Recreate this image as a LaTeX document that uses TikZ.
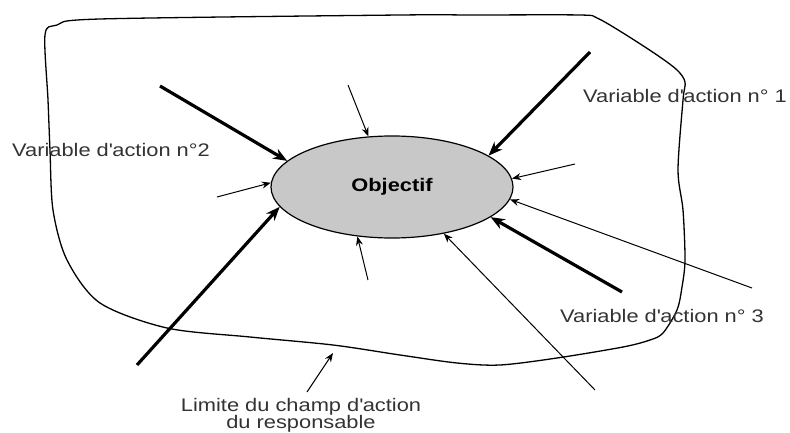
\documentclass[tikz,border=0pt]{standalone}
\usepackage{fontspec}
\setmainfont{Liberation Sans}[FakeStretch=1.2]
\usetikzlibrary{arrows.meta,shapes.geometric}
\definecolor{ink}{HTML}{333333}
\definecolor{objFill}{HTML}{C8C8C8}
\newcommand{\lblObj}{Objectif}
\newcommand{\lblVarA}{Variable d\textquotesingle action n° 1}
\newcommand{\lblVarB}{Variable d\textquotesingle action n°2}
\newcommand{\lblVarC}{Variable d\textquotesingle action n° 3}
\newcommand{\lblLimit}{Limite du champ d\textquotesingle action\\du responsable}

\begin{document}
\begin{tikzpicture}[
  x=1pt, y=-1pt,
  font=\fontsize{18.2}{17}\selectfont,
  obj/.style     ={ellipse, draw=black, line width=1.2pt, fill=objFill,
                   minimum width=242pt, minimum height=102pt, inner sep=0pt,
                   font=\fontsize{18.2}{18}\selectfont\bfseries},
  lbl/.style     ={text=ink, inner sep=0pt},
  major/.style   ={-{Stealth[length=14pt, width=11pt]}, line width=3.2pt},
  minor/.style   ={-{Stealth[length=9pt, width=7pt]}, line width=1pt},
  boundary/.style={draw=black, line width=1.3pt},
]
\useasboundingbox (0,0) rectangle (790,433);

% ---- the objective ---------------------------------------------------------
\node[obj] (obj) at (392,187) {\lblObj};

% ---- limit of the field of action ------------------------------------------
\draw[boundary] plot[smooth cycle, tension=0.5] coordinates {
  (45,35) (57,25) (100,19) (400,15) (473,15) (580,15) (597,18) (623,33)
  (657,55) (677,70) (685,82) (683,100) (678,170) (683,210) (685,260)
  (682,287) (677,310) (663,333) (650,340) (623,347) (557,358) (500,365)
  (457,363) (400,355) (333,345) (250,337) (167,328) (100,303) (67,260)
  (53,210) (50,150) (48,100)};

% ---- labels ----------------------------------------------------------------
\node[lbl, anchor=base west] (varA) at (583,103) {\lblVarA};
\node[lbl, anchor=base west] (varB) at (12,157)  {\lblVarB};
\node[lbl, anchor=base west] (varC) at (560,322) {\lblVarC};
\node[lbl, anchor=north, align=center] (limit) at (301,398) {\lblLimit};

% ---- free ends of the arrows -----------------------------------------------
\coordinate (sA)  at (590,52);
\coordinate (sB)  at (160,86);
\coordinate (sC)  at (622,292);
\coordinate (sD)  at (137,365);
\coordinate (tA)  at (348,85);
\coordinate (tB)  at (217,197);
\coordinate (tC)  at (368,280);
\coordinate (tD)  at (575,164);
\coordinate (tE)  at (752,288);
\coordinate (tF)  at (595,390);
\coordinate (limFoot) at (307,392);
\coordinate (limEdge) at (333,353);

% ---- action variables (thick) ----------------------------------------------
\draw[major] (sA) -- (obj.18);
\draw[major] (sB) -- (obj.166);
\draw[major] (sC) -- (obj.343);
\draw[major] (sD) -- (obj.190);

% ---- other influences (thin) -----------------------------------------------
\draw[minor] (tA) -- (obj.115);
\draw[minor] (tB) -- (obj.178);
\draw[minor] (tC) -- (obj.235);
\draw[minor] (tD) -- (obj.4);
\draw[minor] (tE) -- (obj.354);
\draw[minor] (tF) -- (obj.318);

\draw[minor] (limFoot) -- (limEdge);

\end{tikzpicture}
\end{document}
